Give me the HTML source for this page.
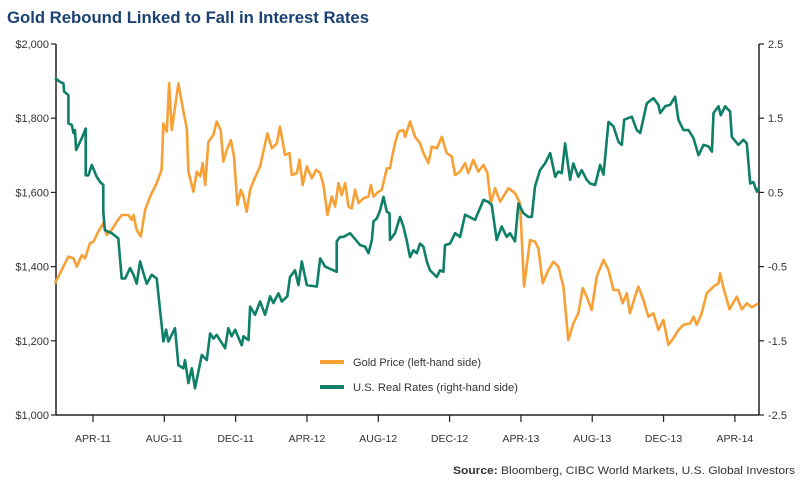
<!DOCTYPE html>
<html><head><meta charset="utf-8"><style>
html,body{margin:0;padding:0;background:#fff;width:800px;height:485px;overflow:hidden}
svg{display:block;font-family:"Liberation Sans",sans-serif}
</style></head><body>
<svg id="chart" width="800" height="485" viewBox="0 0 800 485">
<text x="7" y="23" font-size="17" font-weight="bold" fill="#1c4273" textLength="362" lengthAdjust="spacingAndGlyphs">Gold Rebound Linked to Fall in Interest Rates</text>
<g id="axes"></g>
<g id="lines"></g>
<g>
<line x1="320" y1="362" x2="344" y2="362" stroke="#f7a035" stroke-width="4"/>
<text x="353" y="366" font-size="11" fill="#333" textLength="128" lengthAdjust="spacingAndGlyphs">Gold Price (left-hand side)</text>
<line x1="320" y1="387" x2="344" y2="387" stroke="#0f7f68" stroke-width="4"/>
<text x="353" y="391" font-size="11" fill="#333" textLength="165" lengthAdjust="spacingAndGlyphs">U.S. Real Rates (right-hand side)</text>
</g>
<text x="795" y="474" font-size="11" fill="#333" text-anchor="end" textLength="342" lengthAdjust="spacingAndGlyphs"><tspan font-weight="bold">Source:</tspan> Bloomberg, CIBC World Markets, U.S. Global Investors</text>
</svg>
<script>
const xTickLabels=["APR-11","AUG-11","DEC-11","APR-12","AUG-12","DEC-12","APR-13","AUG-13","DEC-13","APR-14"];
const xTickMonths=[3,7,11,15,19,23,27,31,35,39];
const leftTicks=[1000,1200,1400,1600,1800,2000];
const leftTickLabels=["$1,000","$1,200","$1,400","$1,600","$1,800","$2,000"];
const rightTicks=[-2.5,-1.5,-0.5,0.5,1.5,2.5];
const rightTickLabels=["-2.5","-1.5","-0.5","0.5","1.5","2.5"];
const goldMonths=[0.87,1.34,1.62,1.90,2.09,2.37,2.55,2.83,3.02,3.30,3.58,3.77,4.05,4.33,4.61,4.98,5.17,5.27,5.45,5.68,5.92,6.20,6.57,6.85,6.95,7.14,7.27,7.42,7.55,7.79,8.07,8.26,8.35,8.63,8.82,9.01,9.15,9.29,9.47,9.75,9.94,10.16,10.31,10.50,10.73,10.91,11.10,11.29,11.44,11.62,11.81,12.03,12.37,12.78,13.03,13.31,13.49,13.77,14.02,14.15,14.43,14.58,14.76,14.99,15.27,15.51,15.74,15.92,16.15,16.39,16.58,16.77,16.95,17.14,17.33,17.51,17.70,17.89,18.17,18.45,18.58,18.73,19.01,19.20,19.48,19.66,19.76,19.94,20.13,20.41,20.51,20.78,21.06,21.34,21.53,21.81,22.00,22.28,22.56,22.84,23.12,23.31,23.59,23.87,24.05,24.33,24.61,24.90,25.12,25.31,25.55,25.83,26.30,26.67,26.95,27.18,27.51,27.79,27.98,28.22,28.54,28.82,29.10,29.38,29.66,29.94,30.22,30.47,30.69,30.97,31.25,31.63,31.91,32.19,32.47,32.71,32.94,33.12,33.40,33.59,33.87,34.15,34.43,34.71,34.99,35.27,35.55,35.83,36.12,36.49,36.68,36.86,37.14,37.42,37.80,38.08,38.17,38.36,38.70,39.11,39.39,39.67,39.95,40.32];
const goldValues=[1355,1400,1427,1422,1400,1431,1422,1463,1467,1494,1517,1485,1499,1521,1539,1539,1526,1539,1499,1481,1553,1589,1625,1661,1786,1764,1894,1768,1813,1894,1818,1773,1656,1602,1656,1643,1679,1620,1737,1755,1791,1768,1683,1714,1741,1697,1566,1607,1589,1548,1607,1634,1670,1759,1719,1732,1777,1701,1706,1647,1652,1688,1620,1670,1638,1661,1652,1620,1539,1589,1562,1625,1593,1625,1562,1557,1607,1571,1584,1589,1620,1589,1602,1607,1665,1665,1692,1732,1764,1768,1750,1791,1750,1732,1706,1679,1723,1719,1750,1706,1697,1647,1656,1679,1652,1688,1656,1674,1652,1571,1611,1575,1611,1598,1571,1346,1472,1467,1449,1355,1391,1413,1400,1346,1202,1247,1274,1342,1319,1283,1373,1418,1391,1337,1337,1301,1328,1274,1319,1346,1310,1265,1274,1229,1256,1189,1207,1229,1243,1247,1265,1243,1274,1328,1346,1355,1382,1342,1285,1319,1285,1301,1290,1301];
const rateMonths=[0.87,1.15,1.34,1.38,1.62,1.62,1.81,1.90,1.99,2.05,2.37,2.59,2.59,2.74,2.93,3.21,3.40,3.58,3.58,3.67,4.05,4.42,4.61,4.80,5.08,5.27,5.45,5.64,5.83,6.01,6.29,6.57,6.95,7.10,7.23,7.60,7.79,8.07,8.16,8.35,8.54,8.72,9.10,9.38,9.57,9.75,9.94,10.41,10.59,10.78,10.97,11.34,11.44,11.72,11.81,12.09,12.37,12.65,12.93,13.12,13.40,13.59,13.90,14.05,14.33,14.52,14.71,14.99,15.55,15.74,16.02,16.67,16.67,16.86,17.05,17.42,17.98,18.26,18.45,18.64,18.73,18.92,19.10,19.29,19.48,19.63,19.66,19.94,20.22,20.41,20.59,20.78,20.97,21.16,21.34,21.53,21.72,21.90,22.28,22.46,22.65,22.74,23.03,23.31,23.59,23.87,24.43,24.90,25.18,25.36,25.64,25.92,26.20,26.39,26.67,26.86,27.14,27.42,27.61,27.79,28.07,28.35,28.64,28.92,29.10,29.29,29.48,29.76,29.94,30.22,30.41,30.69,30.88,31.16,31.44,31.63,31.91,32.19,32.47,32.66,32.79,33.22,33.50,33.69,34.06,34.43,34.71,34.81,35.09,35.37,35.65,35.83,36.12,36.40,36.68,36.96,37.24,37.52,37.71,37.80,38.08,38.21,38.45,38.73,38.83,39.20,39.48,39.67,39.86,40.04,40.23,40.35];
const rateValues=[2.04,1.99,1.97,1.86,1.81,1.43,1.41,1.30,1.34,1.07,1.23,1.36,0.73,0.73,0.87,0.71,0.64,0.60,0.24,-0.01,-0.05,-0.12,-0.66,-0.66,-0.52,-0.61,-0.73,-0.43,-0.59,-0.73,-0.61,-0.66,-1.51,-1.35,-1.51,-1.33,-1.83,-1.87,-1.76,-2.07,-1.87,-2.14,-1.69,-1.76,-1.40,-1.47,-1.42,-1.60,-1.33,-1.44,-1.35,-1.56,-1.44,-1.49,-1.04,-1.15,-0.97,-1.15,-0.90,-0.99,-0.86,-0.97,-0.90,-0.64,-0.55,-0.75,-0.43,-0.75,-0.77,-0.39,-0.50,-0.57,-0.16,-0.10,-0.10,-0.05,-0.21,-0.23,-0.32,-0.14,0.11,0.15,0.26,0.44,0.24,0.22,-0.14,-0.05,0.17,0.04,-0.14,-0.37,-0.28,-0.32,-0.19,-0.23,-0.43,-0.55,-0.64,-0.55,-0.57,-0.21,-0.19,-0.05,-0.10,0.20,0.13,0.40,0.37,0.33,-0.14,0.04,-0.10,-0.05,-0.16,0.35,0.22,0.17,0.17,0.58,0.80,0.89,1.03,0.71,0.78,0.76,1.16,0.67,0.89,0.71,0.80,0.67,0.62,0.60,0.87,0.74,1.45,1.39,1.18,1.14,1.48,1.52,1.34,1.30,1.70,1.77,1.68,1.57,1.66,1.68,1.79,1.48,1.34,1.34,1.23,1.00,1.14,1.12,1.05,1.57,1.66,1.54,1.66,1.59,1.25,1.14,1.21,1.16,0.62,0.64,0.51,0.56];

const NS="http://www.w3.org/2000/svg";
const X0=56,X1=759,Y0=44,Y1=415;
function xScale(m){return 93+(m-3)*17.83;}
function yLeft(v){return Y0+(2000-v)*(Y1-Y0)/1000;}
function yRight(v){return Y0+(2.5-v)*(Y1-Y0)/5;}
function mk(tag,attrs,parent){const e=document.createElementNS(NS,tag);for(const k in attrs)e.setAttribute(k,attrs[k]);parent.appendChild(e);return e;}
const axes=document.getElementById('axes');
const lines=document.getElementById('lines');
let e;
e=mk('line',{x1:X0,y1:Y0,x2:X0,y2:Y1,stroke:'#222','stroke-width':1.5},axes);


e=mk('line',{x1:X1,y1:Y0,x2:X1,y2:Y1,stroke:'#222','stroke-width':1.5},axes);


e=mk('line',{x1:X0,y1:Y1,x2:X1,y2:Y1,stroke:'#222','stroke-width':1.5},axes);


leftTicks.forEach((v,i)=>{const y=yLeft(v);
 e=mk('line',{x1:X0-5,y1:y,x2:X0,y2:y,stroke:'#222','stroke-width':1.2},axes);
 
 
 e=mk('text',{x:X0-7,y:y+4,'font-size':11,fill:'#333','text-anchor':'end'},axes);e.textContent=leftTickLabels[i];
 
 
});
rightTicks.forEach((v,i)=>{const y=yRight(v);
 e=mk('line',{x1:X1,y1:y,x2:X1+5,y2:y,stroke:'#222','stroke-width':1.2},axes);
 
 
 e=mk('text',{x:X1+9,y:y+4,'font-size':11,fill:'#333'},axes);e.textContent=rightTickLabels[i];
 
 
});
xTickMonths.forEach((m,i)=>{const x=xScale(m);
 e=mk('line',{x1:x,y1:Y1,x2:x,y2:Y1+7,stroke:'#222','stroke-width':1.2},axes);
 
 
 e=mk('text',{x:x,y:Y1+27,'font-size':10.5,fill:'#333','text-anchor':'middle'},axes);e.textContent=xTickLabels[i];
 
 
});
function pathFrom(ms,vs,yf){return ms.map((m,i)=>(i?'L':'M')+xScale(m).toFixed(1)+','+yf(vs[i]).toFixed(1)).join('');}
e=mk('path',{d:pathFrom(goldMonths,goldValues,yLeft),fill:'none',stroke:'#f7a035','stroke-width':2.6,'stroke-linejoin':'round'},lines);


e=mk('path',{d:pathFrom(rateMonths,rateValues,yRight),fill:'none',stroke:'#0f7f68','stroke-width':2.6,'stroke-linejoin':'round'},lines);


</script>
</body></html>
